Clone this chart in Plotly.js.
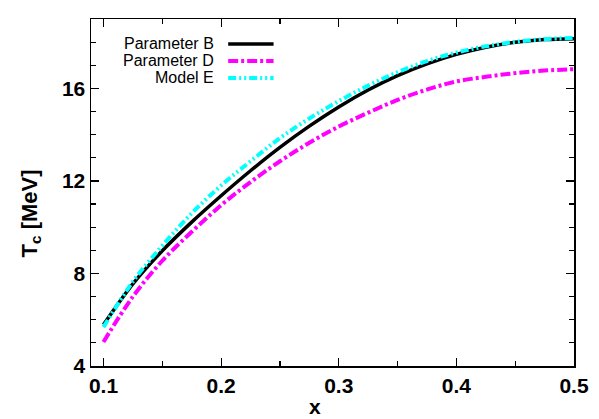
<!DOCTYPE html>
<html>
<head>
<meta charset="utf-8">
<script src="https://cdn.plot.ly/plotly-3.0.1.min.js"></script>
<style>
  html, body { margin: 0; padding: 0; background: #fff; }
  #myDiv { width: 599px; height: 419px; }
</style>
</head>
<body>
<div id="myDiv"></div>
<script>
// x values shared by the three curves
let xValue = [0.10, 0.125, 0.15, 0.175, 0.20, 0.225, 0.25, 0.275, 0.30,
              0.325, 0.35, 0.375, 0.40, 0.425, 0.45, 0.475, 0.50];

// Tc in MeV
let paramB = [5.78, 7.55, 8.98, 10.22, 11.36, 12.44, 13.45, 14.37, 15.20,
              15.93, 16.55, 17.06, 17.47, 17.78, 17.99, 18.11, 18.15];
let paramD = [5.04, 7.00, 8.55, 9.80, 10.95, 11.95, 12.85, 13.65, 14.35,
              14.95, 15.50, 15.95, 16.30, 16.50, 16.66, 16.77, 16.83];
let modelE = [5.68, 7.65, 9.20, 10.60, 11.80, 12.85, 13.85, 14.70, 15.45,
              16.12, 16.70, 17.18, 17.55, 17.82, 18.01, 18.13, 18.18];

let names = ["Parameter B", "Parameter D", "Model E"];
let xTicks = [0.1, 0.2, 0.3, 0.4, 0.5];
let yTicks = [4, 8, 12, 16];

var fam = "Liberation Sans, Arial, sans-serif";

var trace1 = {
  x: xValue, y: paramB, name: names[0], mode: 'lines', type: 'scatter',
  line: {color: '#000000', width: 3.5, shape: 'spline'}
};
var trace2 = {
  x: xValue, y: paramD, name: names[1], mode: 'lines', type: 'scatter',
  line: {color: '#ff00ff', width: 4, dash: '10px,3px,3px,3px', shape: 'spline'}
};
var trace3 = {
  x: xValue, y: modelE, name: names[2], mode: 'lines', type: 'scatter',
  line: {color: '#00ffff', width: 4, dash: '8px,3px,2px,3px,2px,3px', shape: 'spline'}
};

var data = [trace1, trace2, trace3];

// hand made legend (text right aligned, sample line on the right)
var legY = [0.928, 0.879, 0.830];
var legColors = ['#000000', '#ff00ff', '#00ffff'];
var legDash = ['solid', '10px,3px,3px,3px', '8px,3px,2px,3px,2px,3px'];
var annotations = [];
var shapes = [];
for (var i = 0; i < names.length; i++) {
  annotations.push({
    xref: 'paper', yref: 'paper', x: 0.259, y: legY[i],
    xanchor: 'right', yanchor: 'middle', showarrow: false,
    text: names[i], font: {family: fam, size: 16, color: '#000'}
  });
  shapes.push({
    type: 'line', xref: 'paper', yref: 'paper',
    x0: 0.284, x1: 0.378, y0: legY[i], y1: legY[i],
    line: {color: legColors[i], width: i == 0 ? 3.5 : 4, dash: legDash[i]}
  });
}
// axis titles
annotations.push({
  xref: 'paper', yref: 'paper', x: -0.124, y: 0.44,
  xanchor: 'center', yanchor: 'middle', showarrow: false, textangle: -90,
  text: 'T<sub>c</sub> [MeV]', font: {family: fam, size: 22, weight: 'bold', color: '#000'}
});
annotations.push({
  xref: 'paper', yref: 'paper', x: 0.463, y: -0.118,
  xanchor: 'center', yanchor: 'middle', showarrow: false, borderpad: 0,
  text: 'x', font: {family: fam, size: 21, weight: 'bold', color: '#000'}
});

var axisBase = {
  showline: true, linecolor: '#000', linewidth: 1.5, mirror: 'allticks',
  ticks: 'inside', ticklen: 8, tickwidth: 1.2, tickcolor: '#000',
  showgrid: false, zeroline: false,
  tickfont: {family: fam, size: 21, weight: 'bold', color: '#000'}
};

var layout = {
  width: 599, height: 419,
  margin: {l: 91, r: 25, t: 19, b: 53},
  paper_bgcolor: '#fff', plot_bgcolor: '#fff',
  showlegend: false,
  xaxis: Object.assign({}, axisBase, {
    range: [0.0894, 0.5], tickvals: xTicks, ticktext: xTicks.map(v => v.toFixed(1)),
    minor: {dtick: 0.05, ticks: 'inside', ticklen: 5, tickwidth: 1.2, tickcolor: '#000'}
  }),
  yaxis: Object.assign({}, axisBase, {
    range: [4, 19], tickvals: yTicks,
    minor: {dtick: 1, ticks: 'inside', ticklen: 5, tickwidth: 1.2, tickcolor: '#000'}
  }),
  annotations: annotations,
  shapes: shapes
};

var config = {displayModeBar: false, staticPlot: true};
Plotly.newPlot('myDiv', data, layout, config);
</script>
</body>
</html>
